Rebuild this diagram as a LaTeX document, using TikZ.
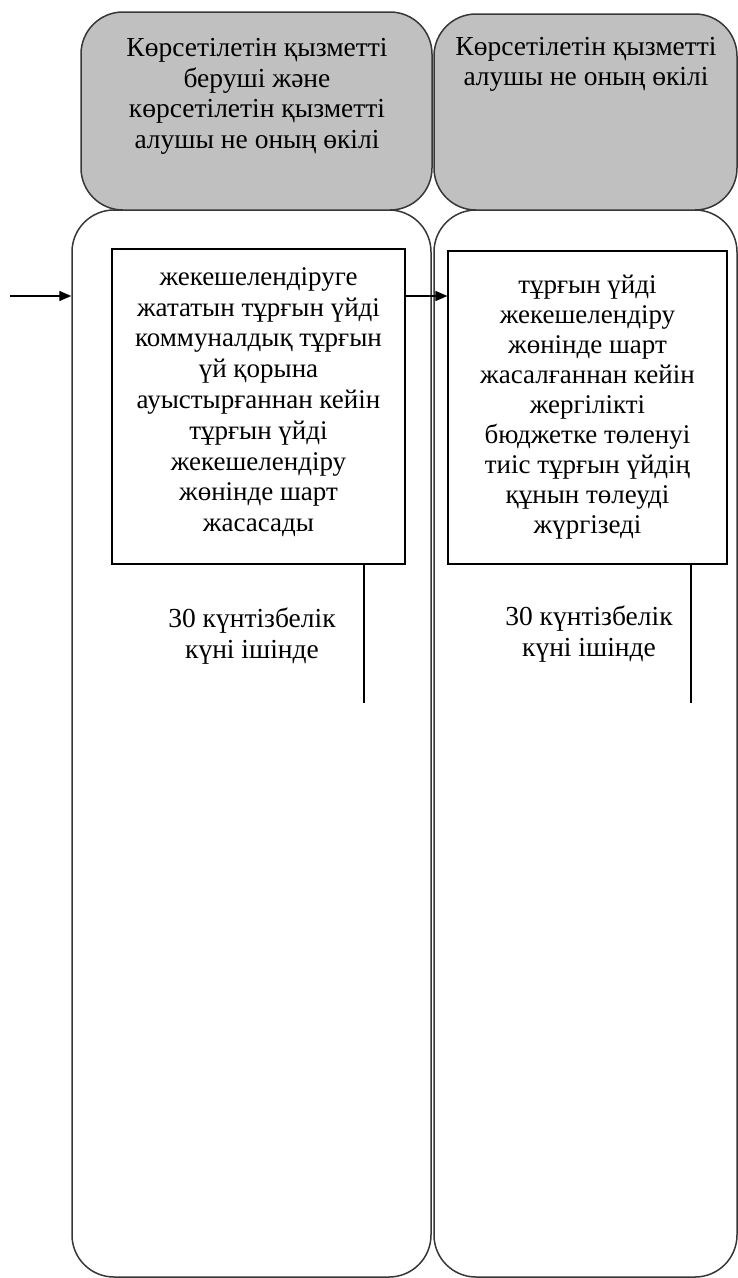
\documentclass[tikz,border=0pt]{standalone}
\usepackage{fontspec}
\setmainfont{Liberation Serif}
\usetikzlibrary{arrows.meta}
\definecolor{hdrgray}{RGB}{192,192,192}
\definecolor{edgecol}{RGB}{55,55,55}
\begin{document}
\begin{tikzpicture}[x=1pt,y=-1pt,
  lanebox/.style={draw=edgecol, line width=1.5pt, rounded corners=42pt, inner sep=0pt},
  hdrbox/.style={lanebox, fill=hdrgray},
  stepbox/.style={draw=black, line width=1.2pt, inner sep=0pt, align=center,
    font=\fontsize{27}{30.8}\selectfont},
  txt/.style={inner sep=0pt, align=center, font=\fontsize{27.5}{30.5}\selectfont},
  conn/.style={draw=black, line width=1.4pt},
  arr/.style={conn, -{Triangle[length=12pt,width=10pt]}}]
\useasboundingbox (0,0) rectangle (738,1278);
% lanes
\node[lanebox, minimum width=359pt, minimum height=1067pt] (laneL) at (251.5,743.5) {};
\node[lanebox, minimum width=303pt, minimum height=1067pt] (laneR) at (585.5,743.5) {};
% headers
\node[hdrbox, minimum width=351pt, minimum height=198pt] (hdrL) at (256.5,111) {};
\node[hdrbox, minimum width=303pt, minimum height=196pt] (hdrR) at (585.5,112) {};
\node[txt, anchor=base] (hdrLt) at (257,148) {Көрсетілетін қызметті\\беруші және\\көрсетілетін қызметті\\алушы не оның өкілі};
\node[txt, anchor=base] (hdrRt) at (586,85.5) {Көрсетілетін қызметті\\алушы не оның өкілі};
% step boxes
\node[stepbox, minimum width=293pt, minimum height=315pt] (boxL) at (258.5,406.5)
  {жекешелендіруге\\жататын тұрғын үйді\\коммуналдық тұрғын\\үй қорына\\ауыстырғаннан кейін\\тұрғын үйді\\жекешелендіру\\жөнінде шарт\\жасасады\rule[-14pt]{0pt}{0pt}};
\node[stepbox, minimum width=279pt, minimum height=313pt, font=\fontsize{27}{30}\selectfont] (boxR) at (587.5,407.5)
  {тұрғын үйді\\жекешелендіру\\жөнінде шарт\\жасалғаннан кейін\\жергілікті\\бюджетке төленуі\\тиіс тұрғын үйдің\\құнын төлеуді\\жүргізеді};
% arrows
\coordinate (start) at (10,296);
\draw[arr] (start) -- (laneL.west |- start);
\draw[arr] (boxL.east |- start) -- (boxR.west |- start);
% duration lines
\coordinate (endL) at (364,703);
\coordinate (endR) at (691,703);
\draw[conn] (boxL.south -| endL) -- (endL);
\draw[conn] (boxR.south -| endR) -- (endR);
% duration texts
\node[txt, anchor=base] (durL) at (252,658) {30 күнтізбелік\\күні ішінде};
\node[txt, anchor=base] (durR) at (589,656) {30 күнтізбелік\\күні ішінде};
\end{tikzpicture}
\end{document}
